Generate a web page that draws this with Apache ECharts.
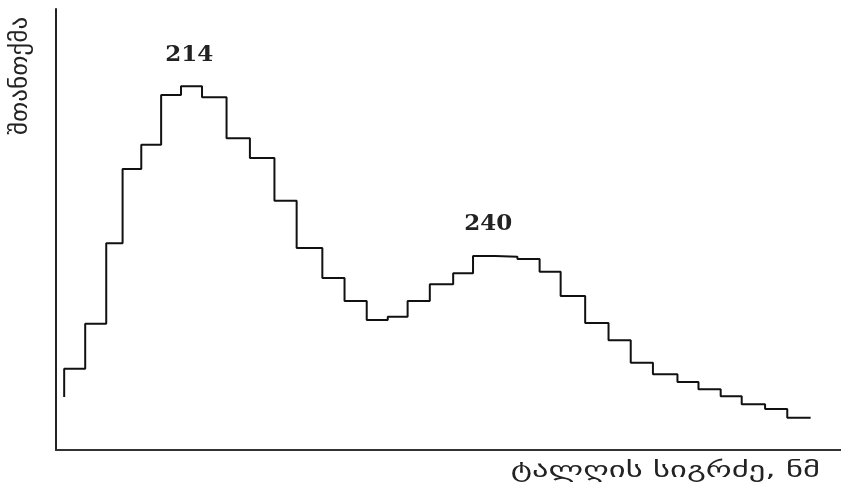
<!DOCTYPE html>
<html>
<head>
<meta charset="utf-8">
<script src="https://cdn.jsdelivr.net/npm/echarts@6/dist/echarts.min.js"></script>
<style>
  html, body { margin: 0; padding: 0; background: #fff; }
  #main { width: 841px; height: 498px; }
</style>
</head>
<body>
<div id="main"></div>
<script>
// bin edges along the wavelength axis, nm
var edges = [203.2, 205.0, 206.8, 208.2, 209.8, 211.5, 213.2, 215.0, 217.1, 219.1,
  221.2, 223.1, 225.3, 227.2, 229.1, 230.9, 232.6, 234.5, 236.5, 238.2,
  240.1, 242.0, 243.9, 245.7, 247.8, 249.8, 251.7, 253.6, 255.7, 257.5,
  259.4, 261.2, 263.2, 265.1, 267.1];
// absorbance in each bin (arbitrary units)
var levels = [18.4, 28.6, 46.9, 63.7, 69.2, 80.5, 82.5, 80.0, 70.7, 66.2,
  56.5, 45.8, 39.0, 33.8, 29.5, 30.2, 33.8, 37.6, 40.1, 44.0,
  43.8, 43.3, 40.4, 34.9, 28.8, 24.9, 19.8, 17.2, 15.4, 13.8,
  12.2, 10.4, 9.3, 7.3];
var startLevel = 12.0;
// peak labels
var peaks = [
  { name: "214", x: 213.9, y: 82.5 },
  { name: "240", x: 239.5, y: 44.0 }
];

var xName = "ტალღის სიგრძე, ნმ";
var yName = "შთანთქმა";

function stepData() {
  var res = [[edges[0], startLevel]];
  levels.forEach(function (v, i) {
    res.push([edges[i], v]);
  });
  res.push([edges[edges.length - 1], levels[levels.length - 1]]);
  return res;
}

var myChart = echarts.init(document.getElementById("main"));
var option = {
  animation: false,
  backgroundColor: "#fff",
  grid: { left: 56, right: 0, top: 9, bottom: 48 },
  // axis titles: the Georgian glyphs in the reference are much wider, so stretch them a bit
  graphic: [
    {
      type: "text",
      x: 820,
      y: 460,
      scaleX: 1.48,
      style: {
        text: xName,
        fontFamily: "DejaVu Sans",
        fontSize: 22,
        fill: "#222",
        align: "right",
        verticalAlign: "top"
      }
    },
    {
      type: "text",
      x: 33,
      y: 135,
      rotation: Math.PI / 2,
      scaleX: 1.05,
      style: {
        text: yName,
        fontFamily: "DejaVu Sans",
        fontSize: 24,
        fill: "#222",
        align: "left",
        verticalAlign: "bottom"
      }
    }
  ],
  xAxis: {
    type: "value",
    min: 202.5,
    max: 269.7,
    axisLine: { onZero: false, lineStyle: { color: "#333", width: 2 } },
    axisTick: { show: false },
    axisLabel: { show: false },
    splitLine: { show: false }
  },
  yAxis: {
    type: "value",
    min: 0,
    max: 100,
    axisLine: { show: true, lineStyle: { color: "#222", width: 2 } },
    axisTick: { show: false },
    axisLabel: { show: false },
    splitLine: { show: false }
  },
  series: [
    {
      type: "line",
      step: "end",
      data: stepData(),
      symbol: "none",
      lineStyle: { color: "#111", width: 2 },
      markPoint: {
        symbol: "circle",
        symbolSize: 0,
        label: {
          show: true,
          formatter: "{b}",
          position: "top",
          distance: 20,
          fontFamily: "DejaVu Serif",
          fontWeight: "bold",
          fontSize: 23,
          color: "#222"
        },
        data: peaks.map(function (p) {
          return { name: p.name, coord: [p.x, p.y] };
        })
      }
    }
  ]
};
option && myChart.setOption(option);
</script>
</body>
</html>
